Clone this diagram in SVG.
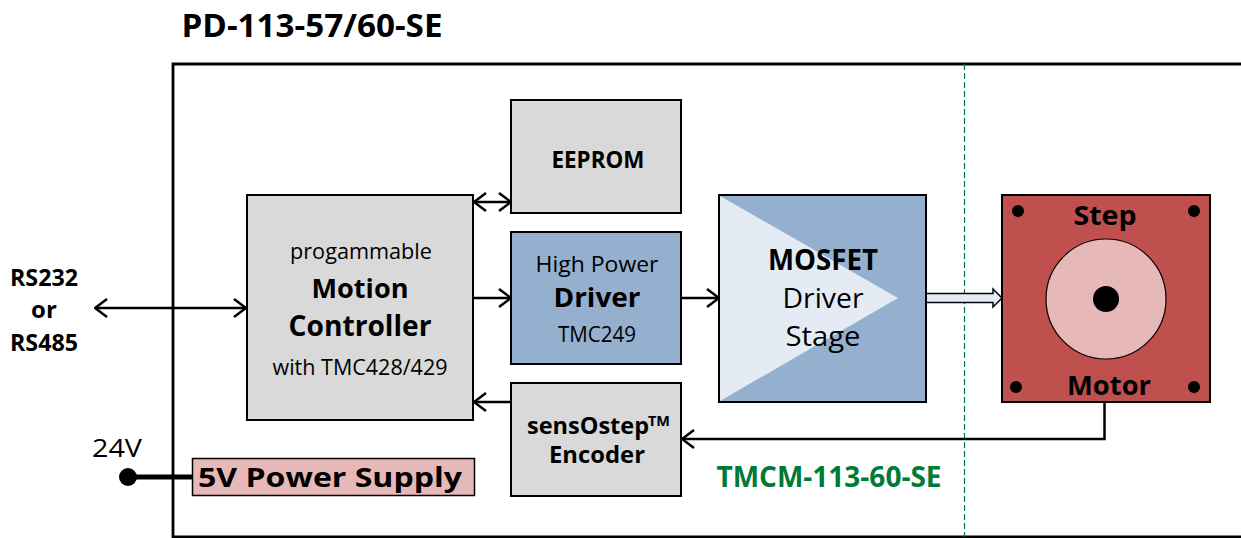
<svg xmlns="http://www.w3.org/2000/svg" width="1241" height="538" viewBox="0 0 1241 538">
<defs>
<style>
text{font-family:"Open Sans","Noto Sans","DejaVu Sans",sans-serif;fill:#000;text-anchor:middle}
.b{font-weight:bold}
.box{stroke:#000;stroke-width:2}
.gray{fill:#d9d9d9}
.blue{fill:#95b0cf}
.ln{stroke:#000;stroke-width:2.5;fill:none}
</style>
<marker id="ah" viewBox="0 0 14 20" refX="13" refY="10" markerWidth="14" markerHeight="20" markerUnits="userSpaceOnUse" orient="auto-start-reverse">
<path d="M1,1 L13,10 L1,19" fill="none" stroke="#000" stroke-width="2.5"/>
</marker>
</defs>
<rect width="1241" height="538" fill="#fff"/>
<text x="312" y="37" class="b" font-size="32" textLength="261" lengthAdjust="spacingAndGlyphs">PD-113-57/60-SE</text>
<g id="frame">
<path d="M1245,64 H173 V537 H1245" fill="none" stroke="#000" stroke-width="2.8"/>
<line x1="964.5" y1="64" x2="964.5" y2="537" stroke="#007a37" stroke-width="1.2" stroke-dasharray="6,3"/>
</g>
<g id="connectors">
<line x1="95" y1="308" x2="246" y2="308" class="ln" marker-start="url(#ah)" marker-end="url(#ah)"/>
<line x1="474" y1="202" x2="511" y2="202" class="ln" marker-start="url(#ah)" marker-end="url(#ah)"/>
<line x1="473" y1="298" x2="511" y2="298" class="ln" marker-end="url(#ah)"/>
<line x1="681" y1="298" x2="719" y2="298" class="ln" marker-end="url(#ah)"/>
<line x1="511" y1="402" x2="474" y2="402" class="ln" marker-end="url(#ah)"/>
<path d="M1104.5,402 V439 H682" class="ln" marker-end="url(#ah)"/>
<path d="M926,293.5 H993 V289 L1002,298 L993,307 V302.5 H926 Z" fill="#e4ebf5" stroke="#000" stroke-width="1.5"/>
<line x1="128" y1="477" x2="192" y2="477" stroke="#000" stroke-width="5"/>
<circle cx="128" cy="477" r="9" fill="#000"/>
</g>
<g id="rs">
<text x="44" y="286" class="b" font-size="24" textLength="68" lengthAdjust="spacingAndGlyphs">RS232</text>
<text x="44" y="318" class="b" font-size="24">or</text>
<text x="44" y="351" class="b" font-size="24" textLength="68" lengthAdjust="spacingAndGlyphs">RS485</text>
</g>
<text id="v24" x="117" y="457" font-size="26" textLength="50" lengthAdjust="spacingAndGlyphs">24V</text>
<g id="psu">
<rect x="192.5" y="458.5" width="282" height="37" fill="#e6b8b7" stroke="#000" stroke-width="1.5"/>
<text x="330" y="487" class="b" font-size="26" textLength="264" lengthAdjust="spacingAndGlyphs">5V Power Supply</text>
</g>
<g id="controller">
<rect x="247" y="195" width="226" height="225" class="box gray"/>
<text x="361" y="259" font-size="21" textLength="142" lengthAdjust="spacingAndGlyphs">progammable</text>
<text x="360" y="298" class="b" font-size="27" textLength="97" lengthAdjust="spacingAndGlyphs">Motion</text>
<text x="360" y="336" class="b" font-size="28" textLength="143" lengthAdjust="spacingAndGlyphs">Controller</text>
<text x="360" y="375" font-size="21" textLength="175" lengthAdjust="spacingAndGlyphs">with TMC428/429</text>
</g>
<g id="eeprom">
<rect x="511" y="100" width="170" height="113" class="box gray"/>
<text x="598" y="168" class="b" font-size="23" textLength="93" lengthAdjust="spacingAndGlyphs">EEPROM</text>
</g>
<g id="driver">
<rect x="511" y="232" width="170" height="132" class="box blue"/>
<text x="597" y="272" font-size="21" textLength="123" lengthAdjust="spacingAndGlyphs">High Power</text>
<text x="597" y="307" class="b" font-size="27" textLength="87" lengthAdjust="spacingAndGlyphs">Driver</text>
<text x="597" y="342" font-size="21" textLength="78" lengthAdjust="spacingAndGlyphs">TMC249</text>
</g>
<g id="mosfet">
<rect x="719" y="195" width="207" height="207" class="box blue"/>
<path d="M720,196 L898,298 L720,401 Z" fill="#e4ebf5"/>
<rect x="719" y="195" width="207" height="207" fill="none" stroke="#000" stroke-width="2"/>
<text x="823" y="270" class="b" font-size="28" textLength="110" lengthAdjust="spacingAndGlyphs">MOSFET</text>
<text x="823" y="308" font-size="28" textLength="81" lengthAdjust="spacingAndGlyphs">Driver</text>
<text x="823" y="346" font-size="28" textLength="75" lengthAdjust="spacingAndGlyphs">Stage</text>
</g>
<g id="motor">
<rect x="1002" y="195" width="208" height="207" fill="#c0504d" stroke="#000" stroke-width="2"/>
<circle cx="1106" cy="299" r="60" fill="#e6b8b7" stroke="#000" stroke-width="1.2"/>
<circle cx="1106" cy="299" r="13" fill="#000"/>
<circle cx="1018" cy="211" r="6" fill="#000"/>
<circle cx="1194" cy="211" r="6" fill="#000"/>
<circle cx="1016" cy="387" r="6" fill="#000"/>
<circle cx="1194" cy="387" r="6" fill="#000"/>
<text x="1105" y="225" class="b" font-size="27" textLength="63" lengthAdjust="spacingAndGlyphs">Step</text>
<text x="1109" y="395" class="b" font-size="27" textLength="84" lengthAdjust="spacingAndGlyphs">Motor</text>
</g>
<g id="encoder">
<rect x="511" y="383" width="170" height="113" class="box gray"/>
<text x="588" y="434" class="b" font-size="23" textLength="122" lengthAdjust="spacingAndGlyphs">sensOstep</text>
<text x="659" y="426" class="b" font-size="15" textLength="22" lengthAdjust="spacingAndGlyphs">TM</text>
<text x="597" y="463" class="b" font-size="23" textLength="96" lengthAdjust="spacingAndGlyphs">Encoder</text>
</g>
<text id="tmcm" x="829" y="487" class="b" font-size="28" textLength="225" lengthAdjust="spacingAndGlyphs" style="fill:#007a37">TMCM-113-60-SE</text>
</svg>
